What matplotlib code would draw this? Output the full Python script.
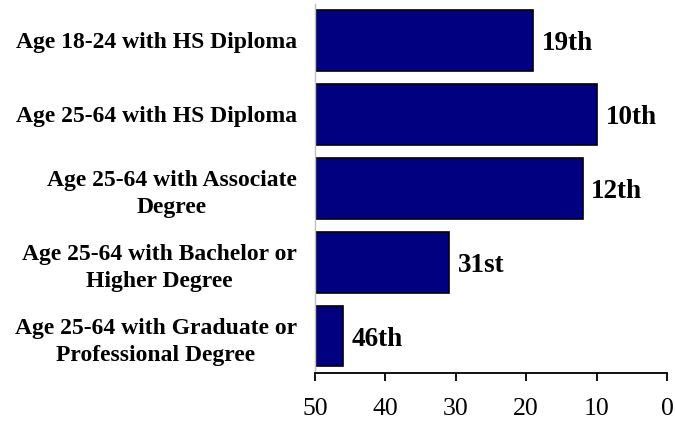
import matplotlib
matplotlib.use("Agg")
import matplotlib.pyplot as plt

# data
categories = [
    "Age 18-24 with HS Diploma",
    "Age 25-64 with HS Diploma",
    "Age 25-64 with Associate\nDegree",
    "Age 25-64 with Bachelor or\nHigher Degree",
    "Age 25-64 with Graduate or\nProfessional Degree",
]
ranks = [19, 10, 12, 31, 46]
rank_labels = ["19th", "10th", "12th", "31st", "46th"]
xticks = [50, 40, 30, 20, 10, 0]

plt.rcParams["font.family"] = ["Liberation Serif", "DejaVu Serif"]

fig = plt.figure(figsize=(6.75, 4.23), dpi=100)
ax = fig.add_axes([0.4667, 0.1182, 0.5215, 0.8735])

ypos = list(range(len(categories)))
# bars start at 50 and run toward the rank (axis reversed)
ax.barh(ypos, [50 - r for r in ranks], left=ranks, height=0.824,
        color="#000080", edgecolor="black", linewidth=1.2)

for y, r, lab in zip(ypos, ranks, rank_labels):
    ax.text(r - 1.25, y + 0.04, lab, ha="left", va="center",
            fontsize=19.5, fontweight="bold")

ax.set_xlim(50, 0)
ax.set_ylim(len(categories) - 0.5, -0.5)
ax.set_xticks(xticks)
ax.set_xticklabels([str(t) for t in xticks], fontsize=18.5)
ax.set_yticks(ypos)
ax.set_yticklabels(categories, fontsize=17, fontweight="bold",
                   multialignment="center", linespacing=1.4)
ax.tick_params(axis="y", length=0, pad=13)
ax.tick_params(axis="x", direction="out", length=6, width=1.3, pad=12)

for s in ["top", "right"]:
    ax.spines[s].set_visible(False)
ax.spines["left"].set_color("#c0c0c0")
ax.spines["left"].set_linewidth(1)
ax.spines["bottom"].set_linewidth(1.3)

fig.savefig("out.png", dpi=100)
